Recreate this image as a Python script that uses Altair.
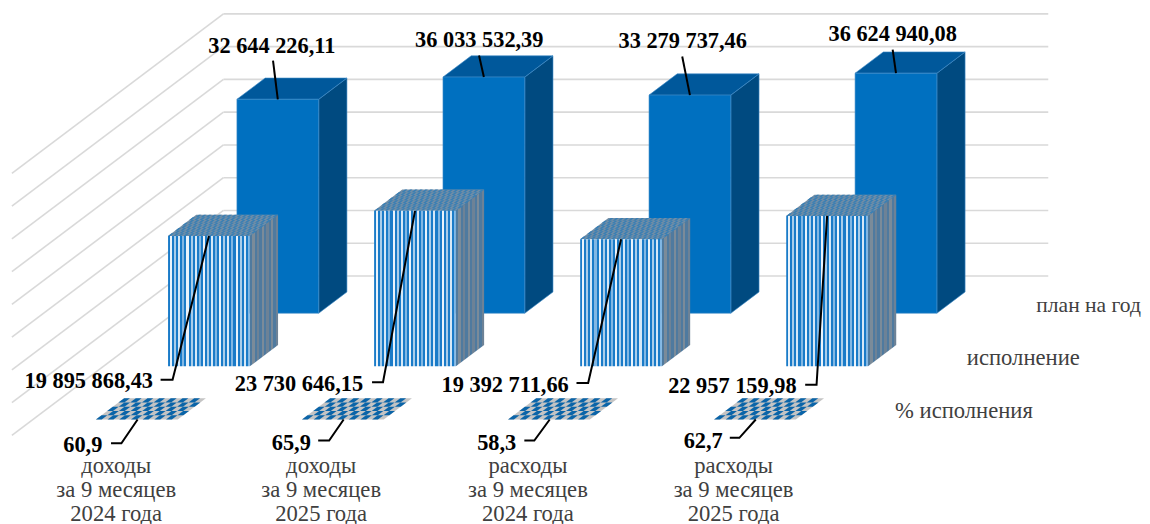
import altair as alt
import pandas as pd

# ---- values -----------------------------------------------------------
categories = [["доходы", "за 9 месяцев", "2024 года"],
              ["доходы", "за 9 месяцев", "2025 года"],
              ["расходы", "за 9 месяцев", "2024 года"],
              ["расходы", "за 9 месяцев", "2025 года"]]
plan = [32644226.11, 36033532.39, 33279737.46, 36624940.08]
fact = [19895868.43, 23730646.15, 19392711.66, 22957159.98]
pct = [60.9, 65.9, 58.3, 62.7]
plan_text = ["32 644 226,11", "36 033 532,39", "33 279 737,46", "36 624 940,08"]
fact_text = ["19 895 868,43", "23 730 646,15", "19 392 711,66", "22 957 159,98"]
pct_text = ["60,9", "65,9", "58,3", "62,7"]
series_names = ["план на год", "исполнение", "% исполнения"]
grid_values = [0, 5, 10, 15, 20, 25, 30, 35, 40]  # millions

# ---- oblique projection -----------------------------------------------
W, H = 1134, 516
ORIGIN_X, ORIGIN_Y = 221.0, 276.0     # back-wall zero corner, page pixels
PX_CAT, PX_VAL = 206.6, 6.57          # pixels per category, per million
DX, DY = 70.7, 53.3                   # pixels per depth unit
BAR_W, BAR_D = 0.397, 0.4
C0 = 0.305


def X(c, d=0.0):
    return c - d * DX / PX_CAT


def Y(v, d=0.0):
    return v - d * DY / PX_VAL


def ax(px):
    return (px - ORIGIN_X) / PX_CAT


def ay(py):
    return (ORIGIN_Y - py) / PX_VAL


x_scale = alt.Scale(domain=[ax(8), ax(8 + W)], range=[0, W], nice=False, zero=False)
y_scale = alt.Scale(domain=[ay(8 + H), ay(8)], range=[H, 0], nice=False, zero=False)
xq = alt.X("x:Q", axis=None, scale=x_scale)
yq = alt.Y("y:Q", axis=None, scale=y_scale)
y2q = alt.Y2("y2:Q")


def front(gid, c, d, v, rows):
    rows += [dict(g=gid, x=X(c, d), y=Y(v, d), y2=Y(0, d)),
             dict(g=gid, x=X(c + BAR_W, d), y=Y(v, d), y2=Y(0, d))]


def side(gid, c, d, v, rows):
    xr = c + BAR_W
    rows += [dict(g=gid, x=X(xr, d), y=Y(v, d), y2=Y(0, d)),
             dict(g=gid, x=X(xr, d - BAR_D), y=Y(v, d - BAR_D), y2=Y(0, d - BAR_D))]


def para(gid, c0, c1, d0, d1, v, rows):
    """Horizontal parallelogram between c0..c1 and depth d0 (front) .. d1 (back)."""
    yf, yb = Y(v, d0), Y(v, d1)
    xfl, xfr, xbl, xbr = X(c0, d0), X(c1, d0), X(c0, d1), X(c1, d1)
    rows.append(dict(g=gid, x=xfl, y=yf, y2=yf))
    if xbl <= xfr:
        rows.append(dict(g=gid, x=xbl, y=yb, y2=yf))
        rows.append(dict(g=gid, x=xfr, y=yb, y2=yf))
    else:
        t1 = (xfr - xfl) / (xbl - xfl)
        rows.append(dict(g=gid, x=xfr, y=yf + (yb - yf) * t1, y2=yf))
        t2 = (xbl - xfr) / (xbr - xfr)
        rows.append(dict(g=gid, x=xbl, y=yb, y2=yf + (yb - yf) * t2))
    rows.append(dict(g=gid, x=xbr, y=yb, y2=yb))


def checker(prefix, c, d, v, cols, nrows, rows_a):
    for i in range(cols):
        for j in range(nrows):
            if (i + j) % 2 == 0:
                c0 = c + BAR_W * i / cols
                c1 = c + BAR_W * (i + 1) / cols
                d0 = d - BAR_D * j / nrows
                d1 = d - BAR_D * (j + 1) / nrows
                para(f"{prefix}-{i}-{j}", c0, c1, d0, d1, v, rows_a)


def stripes(n, a, b):
    stops = []
    for i in range(n):
        col = a if i % 2 == 0 else b[(i // 2) % len(b)]
        stops.append(alt.GradientStop(offset=i / n, color=col))
        stops.append(alt.GradientStop(offset=(i + 1) / n, color=col))
    return alt.Gradient(gradient="linear", stops=stops, x1=0, x2=1, y1=0, y2=0)


def area_layer(rows, **kw):
    return alt.Chart(pd.DataFrame(rows)).mark_area(**kw).encode(x=xq, y=yq, y2=y2q, detail="g:N")


layers = []

# ---- walls ------------------------------------------------------------
grid = []
for v in grid_values:
    grid += [dict(g=f"h{v}", x=X(0), y=Y(v)), dict(g=f"h{v}", x=X(4.003), y=Y(v))]
    grid += [dict(g=f"d{v}", x=X(0), y=Y(v)), dict(g=f"d{v}", x=X(0, 3), y=Y(v, 3))]
layers.append(alt.Chart(pd.DataFrame(grid)).mark_line(color="#d9d9d9", strokeWidth=1.6)
              .encode(x=xq, y=yq, detail="g:N"))

# ---- plan bars --------------------------------------------------------
D_PLAN, D_FACT, D_PCT = 0.7, 1.7, 2.7
rf, rs, rt = [], [], []
for i, val in enumerate(plan):
    m = val / 1e6
    c = i + C0
    front(f"p{i}", c, D_PLAN, m, rf)
    side(f"p{i}", c, D_PLAN, m, rs)
    para(f"p{i}", c, c + BAR_W, D_PLAN, D_PLAN - BAR_D, m, rt)
edge = dict(stroke="#3f8cc8", strokeWidth=0.6)
layers.append(area_layer(rs, color="#004a80", **edge))
layers.append(area_layer(rt, color="#00589b", **edge))
layers.append(area_layer(rf, color="#0070c0", **edge))

# ---- actual bars ------------------------------------------------------
FACT_SHIFT = 0.008
rf, rs, rt, rc = [], [], [], []
for i, val in enumerate(fact):
    m = val / 1e6
    c = i + C0 + FACT_SHIFT
    front(f"f{i}", c, D_FACT, m, rf)
    side(f"f{i}", c, D_FACT, m, rs)
    para(f"f{i}", c, c + BAR_W, D_FACT, D_FACT - BAR_D, m, rt)
    checker(f"ft{i}", c, D_FACT, m, 32, 8, rc)
layers.append(area_layer(rs, color=stripes(12, "#4f7a9f", ["#7b8b99", "#6d8296"])))
layers.append(area_layer(rt, color="#728ea6"))
layers.append(area_layer(rc, color="#3a7fb4"))
layers.append(area_layer(rf, color=stripes(40, "#1a7bc8", ["#eaf3fb", "#a9cdea", "#d6e8f7", "#82b7e3"])))

# ---- percent plates ---------------------------------------------------
rt, rc = [], []
for i, val in enumerate(pct):
    m = val / 1e6
    c = i + C0
    para(f"t{i}", c, c + BAR_W, D_PCT, D_PCT - BAR_D, m, rt)
    checker(f"c{i}", c, D_PCT, m, 14, 5, rc)
layers.append(area_layer(rt, color="#c4c4c4"))
layers.append(area_layer(rc, color="#0a64a8"))

# ---- leader lines (page-pixel elbows, ending on the bars through the scales)
leaders = []


def leader(gid, pts, end):
    for k, (px, py) in enumerate(pts):
        leaders.append(dict(g=gid, o=k, x=ax(px), y=ay(py)))
    leaders.append(dict(g=gid, o=len(pts), x=end[0], y=end[1]))


plan_elbow = [[(270.7, 60)], [(477.3, 55)], [(681, 56)], [(892, 49)]]
fact_elbow = [[(158, 380), (170, 380)], [(370, 382.5), (381, 382.5)],
              [(575, 383.3), (586.7, 383.3)], [(804.3, 385), (815.7, 385)]]
pct_elbow = [[(108.3, 443.7), (118.7, 443.7)], [(316, 441), (327, 441)],
             [(522.7, 441), (532.7, 441)], [(728.7, 438.3), (738.3, 438.3)]]
for i in range(4):
    c = i + C0
    leader(f"lp{i}", plan_elbow[i], (X(c + BAR_W / 2, D_PLAN), Y(plan[i] / 1e6, D_PLAN)))
    leader(f"lf{i}", fact_elbow[i], (X(c + FACT_SHIFT + BAR_W / 2, D_FACT), Y(fact[i] / 1e6, D_FACT)))
    leader(f"lc{i}", pct_elbow[i], (X(c + BAR_W / 2 + 0.004, D_PCT), Y(0, D_PCT)))
layers.append(alt.Chart(pd.DataFrame(leaders)).mark_line(color="#000000", strokeWidth=2, strokeCap="butt")
              .encode(x=xq, y=yq, detail="g:N", order="o:Q"))

# ---- text -------------------------------------------------------------
FONT = "Liberation Serif"
plan_pos = [(269.5, 44.5), (477.5, 39), (681.5, 40), (892, 32.7)]
fact_pos = [(86, 381), (296.7, 384), (503.5, 384.5), (731.3, 386)]
pct_pos = [(80, 444.7), (289, 443), (495, 442.7), (702, 441)]
bold = []
for txts, poss in ((plan_text, plan_pos), (fact_text, fact_pos), (pct_text, pct_pos)):
    for t, (px, py) in zip(txts, poss):
        bold.append(dict(t=t, x=ax(px), y=ay(py + 7.5)))
layers.append(alt.Chart(pd.DataFrame(bold))
              .mark_text(font=FONT, fontWeight="bold", fontSize=22.4, color="#000000",
                         align="center", baseline="alphabetic")
              .encode(x=xq, y=yq, text="t:N"))

cat_x = [113.5, 319, 526.3, 732.5]
cat_base = [473.5, 498, 522]
plain = []
for lines, px in zip(categories, cat_x):
    for t, py in zip(lines, cat_base):
        plain.append(dict(t=t, x=ax(px), y=ay(py)))
legend_pos = [(1023, 365), (963.5, 418)]
for t, (px, py) in zip(series_names[1:], legend_pos):
    plain.append(dict(t=t, x=ax(px), y=ay(py)))
layers.append(alt.Chart(pd.DataFrame(plain))
              .mark_text(font=FONT, fontSize=22.7, color="#404040", align="center", baseline="alphabetic")
              .encode(x=xq, y=yq, text="t:N"))
# the last legend word has to stay inside the 1142 px right edge of the page box
layers.append(alt.Chart(pd.DataFrame([dict(t=series_names[0], x=ax(1088.5), y=ay(312))]))
              .mark_text(font=FONT, fontSize=21.6, color="#404040", align="center", baseline="alphabetic")
              .encode(x=xq, y=yq, text="t:N"))

chart = (alt.layer(*layers)
         .properties(width=W, height=H, padding=0, background="#ffffff")
         .configure_view(stroke=None))
chart.save("out.html", embed_options={"renderer": "svg", "actions": False})
